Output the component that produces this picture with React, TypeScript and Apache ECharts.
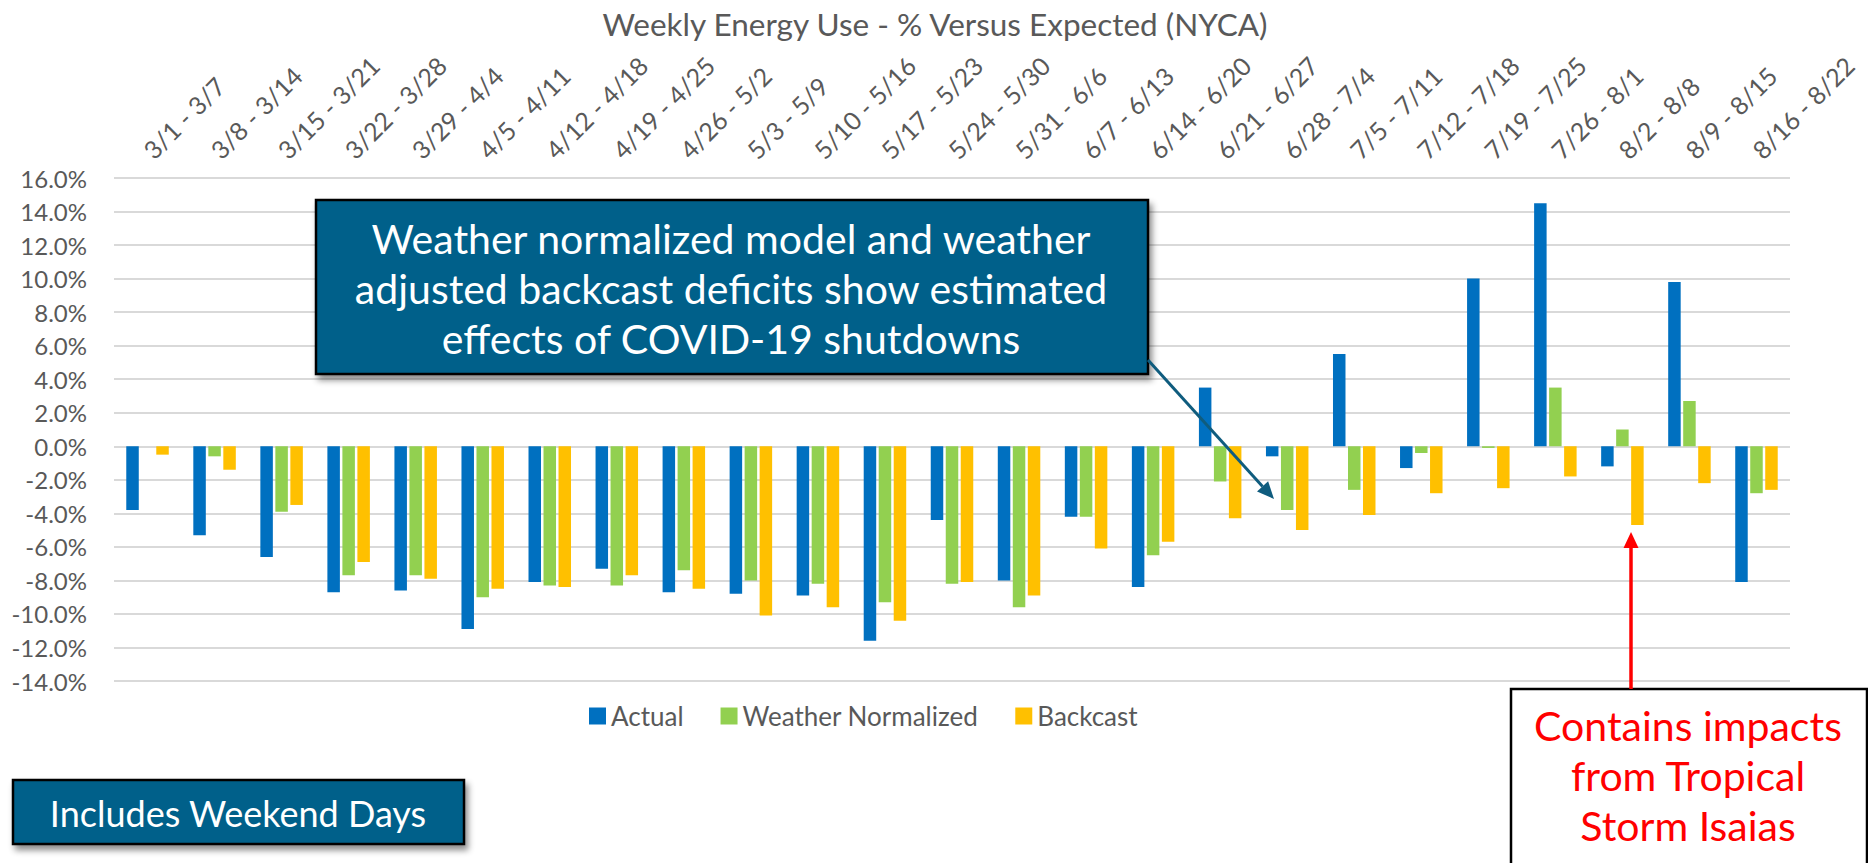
import React, { useEffect, useRef } from "react";
import * as echarts from "echarts";

const categories = [
  "3/1 - 3/7", "3/8 - 3/14", "3/15 - 3/21", "3/22 - 3/28", "3/29 - 4/4",
  "4/5 - 4/11", "4/12 - 4/18", "4/19 - 4/25", "4/26 - 5/2", "5/3 - 5/9",
  "5/10 - 5/16", "5/17 - 5/23", "5/24 - 5/30", "5/31 - 6/6", "6/7 - 6/13",
  "6/14 - 6/20", "6/21 - 6/27", "6/28 - 7/4", "7/5 - 7/11", "7/12 - 7/18",
  "7/19 - 7/25", "7/26 - 8/1", "8/2 - 8/8", "8/9 - 8/15", "8/16 - 8/22",
];

const actual = [-3.8, -5.3, -6.6, -8.7, -8.6, -10.9, -8.1, -7.3, -8.7, -8.8, -8.9, -11.6, -4.4, -8.0, -4.2, -8.4, 3.5, -0.6, 5.5, -1.3, 10.0, 14.5, -1.2, 9.8, -8.1];
const weatherNormalized = [0, -0.6, -3.9, -7.7, -7.7, -9.0, -8.3, -8.3, -7.4, -8.0, -8.2, -9.3, -8.2, -9.6, -4.2, -6.5, -2.1, -3.8, -2.6, -0.4, -0.1, 3.5, 1.0, 2.7, -2.8];
const backcast = [-0.5, -1.4, -3.5, -6.9, -7.9, -8.5, -8.4, -7.7, -8.5, -10.1, -9.6, -10.4, -8.1, -8.9, -6.1, -5.7, -4.3, -5.0, -4.1, -2.8, -2.5, -1.8, -4.7, -2.2, -2.6];

const seriesNames = ["Actual", "Weather Normalized", "Backcast"];
const seriesColors = ["#0070C0", "#92D050", "#FFC000"];

const titleText = "Weekly Energy Use - % Versus Expected (NYCA)";
const calloutLines = [
  "Weather normalized model and weather",
  "adjusted backcast deficits show estimated",
  "effects of COVID-19 shutdowns",
];
const weekendText = "Includes Weekend Days";
const stormLines = ["Contains impacts", "from Tropical", "Storm Isaias"];

const FONT = "Lato, 'Open Sans', sans-serif";
const BOX = "#03608A";

export default function App() {
  const ref = useRef<HTMLDivElement>(null);

  useEffect(() => {
    if (!ref.current) return;
    const chart = echarts.init(ref.current, null, { renderer: "svg" });

    // arrow 1 geometry
    const ax0 = 1148, ay0 = 360, ax1 = 1274, ay1 = 499;
    const dx = ax1 - ax0, dy = ay1 - ay0;
    const len = Math.sqrt(dx * dx + dy * dy);
    const ux = dx / len, uy = dy / len;
    const hl = 17, hw = 7.5;
    const bx = ax1 - ux * hl, by = ay1 - uy * hl;
    const px = -uy, py = ux;

    const option: any = {
      animation: false,
      title: {
        text: titleText,
        left: 930,
        top: 3,
        textAlign: "center",
        textStyle: { fontFamily: FONT, fontSize: 31.5, fontWeight: "normal", color: "#595959" },
      },
      legend: {
        data: seriesNames,
        left: 584,
        top: 698,
        itemWidth: 17,
        itemHeight: 17,
        itemGap: 37,
        icon: "rect",
        textStyle: { fontFamily: FONT, fontSize: 26, color: "#595959" },
      },
      grid: { left: 114, right: 78, top: 178, bottom: 182, containLabel: false },
      xAxis: {
        type: "category",
        position: "top",
        data: categories,
        axisLine: { show: false },
        axisTick: { show: false },
        axisLabel: {
          interval: 0,
          rotate: 45,
          margin: 24,
          fontFamily: FONT,
          fontSize: 25,
          color: "#595959",
        },
      },
      yAxis: {
        type: "value",
        min: -14,
        max: 16,
        interval: 2,
        axisLine: { show: false },
        axisTick: { show: false },
        splitLine: { lineStyle: { color: "#D9D9D9", width: 2 } },
        axisLabel: {
          margin: 27,
          fontFamily: FONT,
          fontSize: 24,
          color: "#595959",
          formatter: (v: number) => v.toFixed(1) + "%",
        },
      },
      series: [actual, weatherNormalized, backcast].map((d, i) => ({
        name: seriesNames[i],
        type: "bar",
        data: d,
        barWidth: 12.5,
        barGap: "20%",
        itemStyle: { color: seriesColors[i] },
      })),
      graphic: [
        // Callout box
        {
          type: "rect",
          shape: { x: 316, y: 200, width: 832, height: 174 },
          style: {
            fill: BOX,
            stroke: "#000",
            lineWidth: 2.5,
            shadowBlur: 6,
            shadowOffsetX: 3,
            shadowOffsetY: 5,
            shadowColor: "rgba(0,0,0,0.45)",
          },
          z: 100,
        },
        ...calloutLines.map((t, i) => ({
          type: "text",
          x: 731,
          y: 238 + i * 50,
          z: 101,
          style: {
            text: t,
            fill: "#FFFFFF",
            fontFamily: FONT,
            fontSize: 41,
            align: "center",
            verticalAlign: "middle",
            textAlign: "center",
            textVerticalAlign: "middle",
          },
        })),
        // Callout arrow
        {
          type: "line",
          shape: { x1: ax0, y1: ay0, x2: bx, y2: by },
          style: { stroke: "#0F5C7E", lineWidth: 3 },
          z: 102,
        },
        {
          type: "polygon",
          shape: {
            points: [
              [ax1, ay1],
              [bx + px * hw, by + py * hw],
              [bx - px * hw, by - py * hw],
            ],
          },
          style: { fill: "#0F5C7E" },
          z: 102,
        },
        // Weekend box
        {
          type: "rect",
          shape: { x: 13, y: 780, width: 451, height: 64 },
          style: {
            fill: BOX,
            stroke: "#000",
            lineWidth: 2.5,
            shadowBlur: 6,
            shadowOffsetX: 3,
            shadowOffsetY: 5,
            shadowColor: "rgba(0,0,0,0.45)",
          },
          z: 100,
        },
        {
          type: "text",
          x: 238,
          y: 813,
          z: 101,
          style: {
            text: weekendText,
            fill: "#FFFFFF",
            fontFamily: FONT,
            fontSize: 36,
            align: "center",
            verticalAlign: "middle",
            textAlign: "center",
            textVerticalAlign: "middle",
          },
        },
        // Storm box
        {
          type: "rect",
          shape: { x: 1511, y: 689, width: 356, height: 190 },
          style: { fill: "#FFFFFF", stroke: "#000", lineWidth: 2.5 },
          z: 100,
        },
        ...stormLines.map((t, i) => ({
          type: "text",
          x: 1688,
          y: 725 + i * 50,
          z: 101,
          style: {
            text: t,
            fill: "#FF0000",
            fontFamily: FONT,
            fontSize: 41,
            align: "center",
            verticalAlign: "middle",
            textAlign: "center",
            textVerticalAlign: "middle",
          },
        })),
        // Storm arrow
        {
          type: "line",
          shape: { x1: 1631, y1: 689, x2: 1631, y2: 546 },
          style: { stroke: "#FF0000", lineWidth: 3.5 },
          z: 102,
        },
        {
          type: "polygon",
          shape: { points: [[1631, 532], [1623.5, 548], [1638.5, 548]] },
          style: { fill: "#FF0000" },
          z: 102,
        },
      ],
    };

    chart.setOption(option);
    return () => chart.dispose();
  }, []);

  return (
    <div
      ref={ref}
      style={{ position: "absolute", left: 0, top: 0, width: 1868, height: 863, background: "#fff" }}
    />
  );
}
